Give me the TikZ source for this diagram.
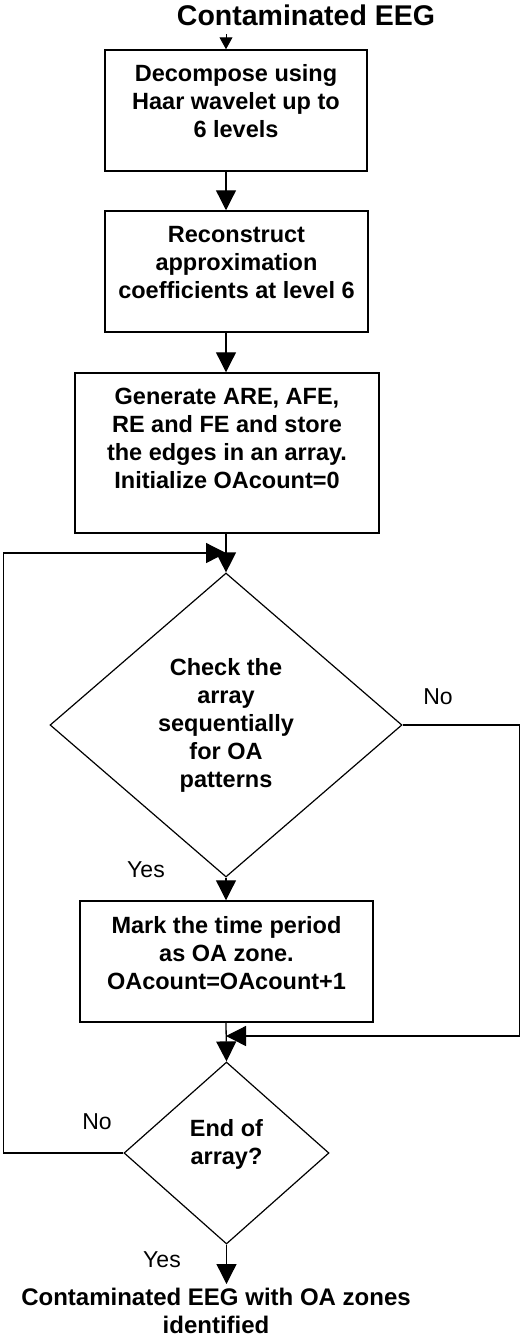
\documentclass[tikz,border=0pt]{standalone}
\usepackage{fontspec}
\setmainfont{Liberation Sans}
\usetikzlibrary{shapes.geometric}
\usetikzlibrary{arrows.meta}
\tikzstyle{stepbox}=[draw,line width=1.5pt,align=center,inner sep=0pt,font=\bfseries\fontsize{23.5}{28}\selectfont]
\tikzstyle{decision}=[draw,diamond,line width=1.2pt,align=center,inner sep=0pt,font=\bfseries\fontsize{23.5}{28}\selectfont]
\tikzstyle{flow}=[-{Triangle[length=20pt,width=20pt]},line width=1.3pt]
\tikzstyle{answer}=[font=\fontsize{23}{28}\selectfont]
\newcommand{\padbelow}[1]{\rule[-#1pt]{0pt}{0pt}}% pushes the text up inside its box

\begin{document}
\begin{tikzpicture}[x=1pt,y=-1pt]
  \useasboundingbox (0,0) rectangle (521,1342);
  \coordinate (axis) at (226,0);
  \coordinate (feed) at (226,34);
  \coordinate (loopin) at (226,553);
  \coordinate (merge) at (226,1036);

  \node[font=\bfseries\fontsize{28.5}{32}\selectfont] (title) at (306,15) {Contaminated EEG};
  \node[stepbox,minimum width=262,minimum height=121] (decomp) at (236,110.5)
    {Decompose using\\Haar wavelet up to\\6 levels\padbelow{19}};
  \node[stepbox,minimum width=263,minimum height=121] (recon) at (236.5,271.5)
    {Reconstruct\\approximation\\coefficients at level 6\padbelow{19}};
  \node[stepbox,minimum width=304,minimum height=160] (edges) at (227,453)
    {Generate ARE, AFE,\\RE and FE and store\\the edges in an array.\\Initialize OAcount=0\padbelow{30}};
  \node[decision,minimum width=352,minimum height=304] (check) at (226,725)
    {Check the\\array\\sequentially\\for OA\\patterns};
  \node[stepbox,minimum width=293,minimum height=121] (mark) at (226.5,961.5)
    {Mark the time period\\as OA zone.\\OAcount=OAcount+1\padbelow{17}};
  \node[decision,minimum width=205,minimum height=182] (end) at (226.5,1153)
    {End of\\array?\padbelow{22}};
  \node[anchor=north,align=center,inner sep=4pt,font=\bfseries\fontsize{24}{28}\selectfont] (result) at (216,1284)
    {Contaminated EEG with OA zones\\identified};

  % answers
  \node[answer] (nocheck) at (438,697) {No};
  \node[answer] (yescheck) at (146,870) {Yes};
  \node[answer] (noend) at (97,1122) {No};
  \node[answer] (yesend) at (162,1260) {Yes};

  \draw[-{Triangle[length=12pt,width=13pt]},line width=1pt] (feed) -- (feed |- decomp.north);
  \draw[flow] (decomp.south -| axis) -- (recon.north -| axis);
  \draw[flow] (recon.south -| axis) -- (edges.north -| axis);
  \draw[flow] (edges.south -| axis) -- (check.north);
  \draw[flow] (check.south) -- (mark.north -| axis);
  \draw[flow] (mark.south -| axis) -- (end.north);
  \draw[flow] (end.south) -- (end.south |- result.north);
  \draw[flow] (check.east) -- ++(117,0) |- (merge); % no
  \draw[flow] (end.west) -- ++(-120,0) |- (loopin); % loop back
\end{tikzpicture}
\end{document}
